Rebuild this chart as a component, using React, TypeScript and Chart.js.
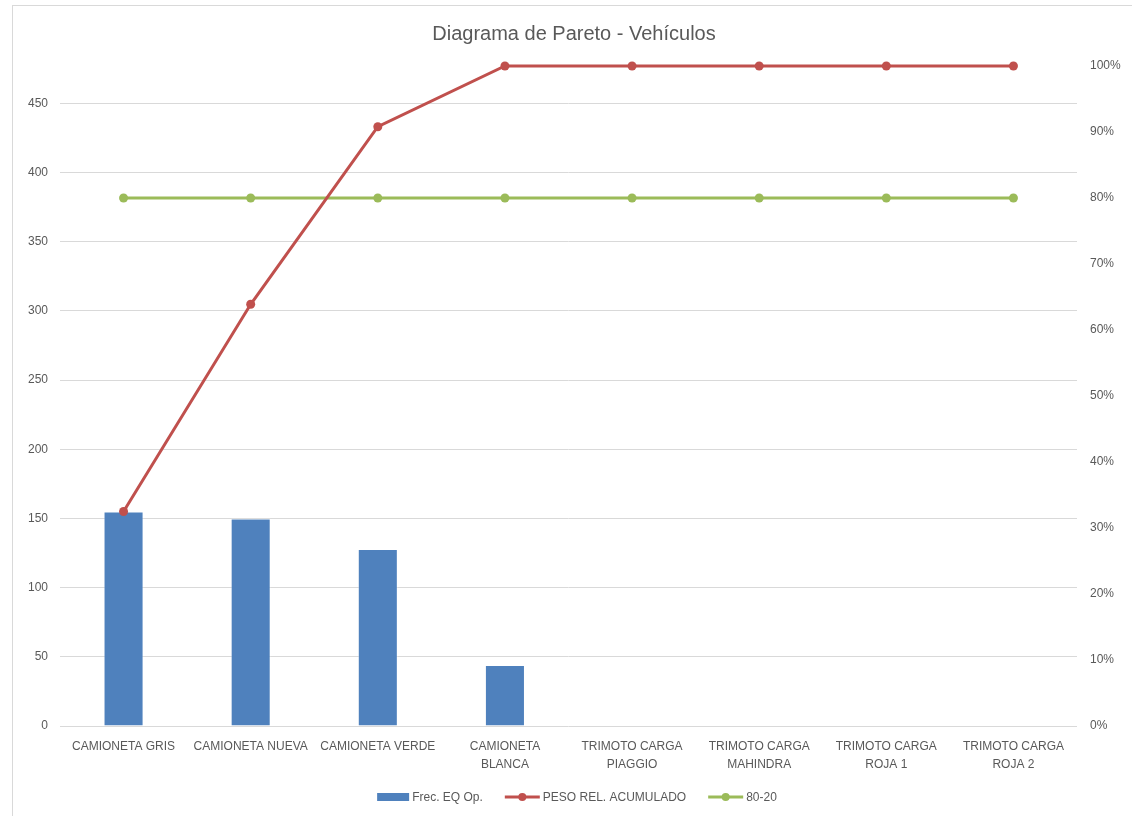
import React, { useEffect, useRef } from "react";
import { Chart, registerables } from "chart.js";

Chart.register(...registerables);

const categories: (string | string[])[] = [
  "CAMIONETA GRIS",
  "CAMIONETA NUEVA",
  "CAMIONETA VERDE",
  ["CAMIONETA", "BLANCA"],
  ["TRIMOTO CARGA", "PIAGGIO"],
  ["TRIMOTO CARGA", "MAHINDRA"],
  ["TRIMOTO CARGA", "ROJA 1"],
  ["TRIMOTO CARGA", "ROJA 2"],
];
const frecuencia = [155, 150, 128, 44, 0, 0, 0, 0];
const pesoAcumulado = [0.325, 0.639, 0.908, 1, 1, 1, 1, 1];
const linea8020 = [0.8, 0.8, 0.8, 0.8, 0.8, 0.8, 0.8, 0.8];
const leftMax = 477;
const leftTickMax = 450;

const TITLE = "Diagrama de Pareto - Vehículos";
const FONT = "'Liberation Sans', Arial, sans-serif";
const TEXT = "#595959";
const GRID = "#d9d9d9";
const BLUE = "#4F81BD";
const RED = "#C0504D";
const GREEN = "#9BBB59";

const decorPlugin = {
  id: "decor",
  beforeDraw(chart: any) {
    const ctx = chart.ctx;
    ctx.save();
    ctx.fillStyle = "#ffffff";
    ctx.fillRect(0, 0, chart.width, chart.height);
    ctx.strokeStyle = GRID;
    ctx.lineWidth = 1;
    ctx.strokeRect(12.5, 5.5, chart.width + 10, chart.height + 10);
    ctx.restore();
  },
  afterDraw(chart: any) {
    const ctx = chart.ctx;
    ctx.save();
    // title
    ctx.fillStyle = TEXT;
    ctx.font = `20px ${FONT}`;
    ctx.textAlign = "center";
    ctx.textBaseline = "middle";
    ctx.fillText(TITLE, 574, 34);

    // legend
    ctx.font = `12px ${FONT}`;
    ctx.textAlign = "left";
    const items = chart.data.datasets.map((d: any) => ({
      label: d.label,
      color: d.type === "bar" ? d.backgroundColor : d.borderColor,
      isBar: d.type === "bar",
    }));
    const symW = (it: any) => (it.isBar ? 32 : 35);
    const gapSym = 3;
    const gapItem = 22;
    let total = 0;
    items.forEach((it: any, i: number) => {
      total += symW(it) + gapSym + ctx.measureText(it.label).width;
      if (i < items.length - 1) total += gapItem;
    });
    let x = 577 - total / 2;
    const y = 797;
    items.forEach((it: any) => {
      const w = symW(it);
      if (it.isBar) {
        ctx.fillStyle = it.color;
        ctx.fillRect(x, y - 4, w, 8);
      } else {
        ctx.strokeStyle = it.color;
        ctx.lineWidth = 3;
        ctx.beginPath();
        ctx.moveTo(x, y);
        ctx.lineTo(x + w, y);
        ctx.stroke();
        ctx.fillStyle = it.color;
        ctx.beginPath();
        ctx.arc(x + w / 2, y, 4, 0, Math.PI * 2);
        ctx.fill();
      }
      x += w + gapSym;
      ctx.fillStyle = TEXT;
      ctx.fillText(it.label, x, y + 1);
      x += ctx.measureText(it.label).width + gapItem;
    });
    ctx.restore();
  },
};

export default function App() {
  const ref = useRef<HTMLCanvasElement | null>(null);

  useEffect(() => {
    if (!ref.current) return;
    const chart = new Chart(ref.current, {
      type: "bar",
      data: {
        labels: categories,
        datasets: [
          {
            type: "bar",
            label: "Frec. EQ Op.",
            data: frecuencia,
            backgroundColor: BLUE,
            borderColor: "rgba(255,255,255,0.35)",
            borderWidth: 1,
            yAxisID: "y",
            barPercentage: 0.315,
            categoryPercentage: 1,
            order: 2,
          } as any,
          {
            type: "line",
            label: "PESO REL. ACUMULADO",
            data: pesoAcumulado,
            borderColor: RED,
            backgroundColor: RED,
            borderWidth: 3,
            pointRadius: 4.5,
            pointBorderWidth: 0,
            pointBackgroundColor: RED,
            tension: 0,
            clip: false,
            yAxisID: "y1",
            order: 0,
          } as any,
          {
            type: "line",
            label: "80-20",
            data: linea8020,
            borderColor: GREEN,
            backgroundColor: GREEN,
            borderWidth: 3,
            pointRadius: 4.5,
            pointBorderWidth: 0,
            pointBackgroundColor: GREEN,
            tension: 0,
            clip: false,
            yAxisID: "y1",
            order: 1,
          } as any,
        ],
      },
      options: {
        responsive: false,
        animation: false,
        layout: { padding: { top: 66, bottom: 20, left: 0, right: 0 } },
        plugins: {
          legend: { display: false },
          title: { display: false },
          tooltip: { enabled: false },
        },
        scales: {
          x: {
            grid: { display: false },
            border: { display: false },
            ticks: {
              color: TEXT,
              font: { family: FONT, size: 12, lineHeight: 1.5 },
              maxRotation: 0,
              minRotation: 0,
              autoSkip: false,
              padding: 4,
            },
            afterFit: (s: any) => {
              s.height = 70;
            },
          },
          y: {
            position: "left",
            min: 0,
            max: leftMax,
            grid: { color: GRID, drawTicks: false, lineWidth: 1 },
            border: { display: false },
            ticks: {
              stepSize: 50,
              includeBounds: false,
              color: TEXT,
              font: { family: FONT, size: 12 },
              padding: 12,
            },
            afterBuildTicks: (s: any) => {
              s.ticks = s.ticks.filter((t: any) => t.value <= leftTickMax);
            },
            afterFit: (s: any) => {
              s.width = 60;
            },
          },
          y1: {
            position: "right",
            min: 0,
            max: 1,
            grid: { display: false, drawTicks: false },
            border: { display: false },
            ticks: {
              stepSize: 0.1,
              color: TEXT,
              font: { family: FONT, size: 12 },
              padding: 13,
              callback: (v: any) => Math.round(Number(v) * 100) + "%",
            },
            afterFit: (s: any) => {
              s.width = 55;
            },
          },
        },
      } as any,
      plugins: [decorPlugin],
    });
    return () => chart.destroy();
  }, []);

  return (
    <div style={{ position: "absolute", left: 0, top: 0, width: 1132, height: 816 }}>
      <canvas ref={ref} width={1132} height={816} style={{ display: "block" }} />
    </div>
  );
}
